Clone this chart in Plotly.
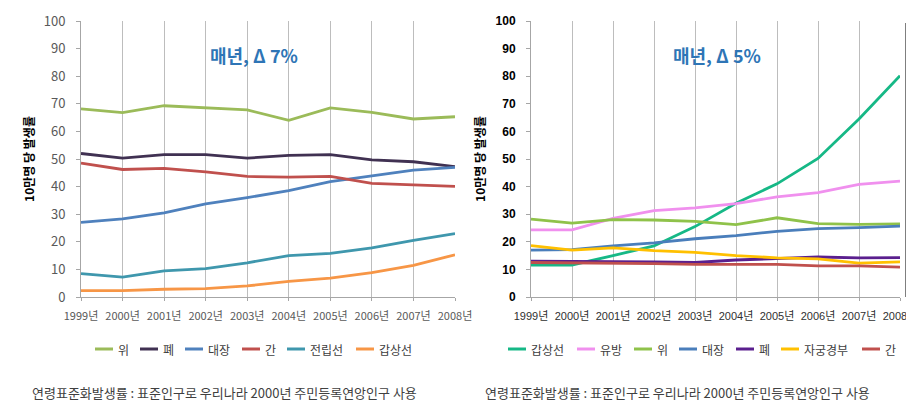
import plotly.graph_objects as go

years = ["1999년", "2000년", "2001년", "2002년", "2003년", "2004년", "2005년", "2006년", "2007년", "2008년"]
xs = list(range(len(years)))

# Left chart
left_names = ["위", "폐", "대장", "간", "전립선", "갑상선"]
left_values = [
    [68.2, 66.8, 69.3, 68.5, 67.8, 64.0, 68.5, 66.9, 64.5, 65.3],
    [52.0, 50.3, 51.6, 51.6, 50.3, 51.3, 51.6, 49.7, 49.0, 47.2],
    [27.0, 28.3, 30.5, 33.7, 36.0, 38.5, 41.8, 44.0, 46.0, 47.0],
    [48.5, 46.2, 46.6, 45.3, 43.7, 43.4, 43.7, 41.2, 40.6, 40.1],
    [8.5, 7.2, 9.5, 10.3, 12.4, 15.0, 15.8, 17.8, 20.5, 23.0],
    [2.3, 2.3, 2.8, 3.0, 4.0, 5.7, 6.8, 8.8, 11.5, 15.3],
]
left_colors = ["#9BBB59", "#403152", "#4F81BD", "#C0504D", "#3F97AD", "#F79646"]

# Right chart
right_names = ["갑상선", "유방", "위", "대장", "폐", "자궁경부", "간"]
right_values = [
    [11.6, 11.6, 15.0, 18.5, 25.5, 34.0, 41.0, 50.2, 64.5, 80.2],
    [24.3, 24.3, 28.5, 31.3, 32.3, 33.8, 36.3, 37.8, 40.8, 42.0],
    [28.2, 26.8, 28.0, 27.9, 27.4, 26.2, 28.7, 26.6, 26.3, 26.5],
    [17.0, 17.2, 18.5, 19.6, 21.1, 22.2, 23.8, 24.8, 25.1, 25.7],
    [13.0, 12.8, 12.8, 12.7, 12.5, 13.4, 14.0, 14.5, 14.2, 14.3],
    [18.6, 17.0, 17.8, 16.8, 16.2, 15.0, 14.2, 13.8, 12.3, 12.7],
    [12.5, 12.4, 12.3, 12.1, 11.8, 11.7, 11.8, 11.3, 11.3, 10.8],
]
right_colors = ["#16B886", "#F090EE", "#8FC24A", "#4A7EBB", "#5A1F8E", "#FFC000", "#C0504D"]

y_ticks = list(range(0, 101, 10))
annot_left = "매년, Δ 7%"
annot_right = "매년, Δ 5%"
y_title = "10만명 당 발생률"
footnote = "연령표준화발생률 : 표준인구로 우리나라 2000년 주민등록연앙인구 사용"

# The page body adds an 8px margin; size the figure so it fills the 914x405 window.
OFF = 8
W, H = 914 - OFF, 405 - OFF
KR = "Noto Sans CJK KR"


def px(v):
    return (v - OFF) / W


def py(v):
    return 1 - (v - OFF) / H


fig = go.Figure()
for name, vals, col in zip(left_names, left_values, left_colors):
    fig.add_trace(go.Scatter(x=xs, y=vals, name=name, mode="lines",
                             line=dict(color=col, width=2.8), xaxis="x", yaxis="y"))
for name, vals, col in zip(right_names, right_values, right_colors):
    fig.add_trace(go.Scatter(x=xs, y=vals, name=name, mode="lines",
                             line=dict(color=col, width=2.8), xaxis="x2", yaxis="y2"))

ydom = [py(297), py(21)]
axis_common = dict(range=[0, 9], tickvals=xs, ticktext=years, showgrid=True,
                   gridcolor="#BDBDBD", gridwidth=1.3, showline=True, linecolor="#A6A6A6",
                   ticks="outside", ticklen=3, tickcolor="#A6A6A6", zeroline=False,
                   ticklabelstandoff=6, automargin=False, ticklabeloverflow="allow")
yaxis_common = dict(range=[0, 100], tickvals=y_ticks, showgrid=False, showline=True,
                    linecolor="#A6A6A6", ticks="outside", ticklen=4, tickcolor="#A6A6A6",
                    zeroline=False, automargin=False, ticklabelstandoff=8)
fig.update_layout(
    width=W, height=H, margin=dict(l=0, r=0, t=0, b=0, pad=0, autoexpand=False),
    paper_bgcolor="white", plot_bgcolor="white",
    font=dict(family=KR, size=11, color="#404040"),
    showlegend=False,
    xaxis=dict(domain=[px(81), px(455)], anchor="y",
               tickfont=dict(family=KR, size=11, color="#595959"), **axis_common),
    yaxis=dict(domain=ydom, anchor="x", **yaxis_common,
               tickfont=dict(family=KR, size=13, color="#595959"),
               title=dict(text=y_title, font=dict(family=KR, size=12, color="#000000", weight="bold"),
                          standoff=6)),
    xaxis2=dict(domain=[px(531), px(900)], anchor="y2",
                tickfont=dict(family="Liberation Sans, " + KR, size=11, color="#303030"), **axis_common),
    yaxis2=dict(domain=ydom, anchor="x2", **yaxis_common,
                tickfont=dict(family="Liberation Sans", size=12, color="#000000", weight="bold"),
                title=dict(text=y_title, font=dict(family=KR, size=12, color="#000000", weight="bold"),
                           standoff=7)),
)

fig.add_annotation(text=annot_left, xref="paper", yref="paper", x=px(254), y=py(55),
                   xanchor="center", yanchor="middle",
                   showarrow=False, font=dict(family=KR, size=18, color="#2E75B6", weight="bold"))
fig.add_annotation(text=annot_right, xref="paper", yref="paper", x=px(717), y=py(55),
                   xanchor="center", yanchor="middle",
                   showarrow=False, font=dict(family=KR, size=18, color="#2E75B6", weight="bold"))
fig.add_annotation(text=footnote, xref="paper", yref="paper", x=px(30), y=py(392),
                   xanchor="left", yanchor="middle", showarrow=False,
                   font=dict(family=KR, size=13, color="#404040"))
fig.add_annotation(text=footnote, xref="paper", yref="paper", x=px(483), y=py(392),
                   xanchor="left", yanchor="middle", showarrow=False,
                   font=dict(family=KR, size=13, color="#404040"))

# Compact legends (line sample + label), laid out from the series names
LINE_LEN, TEXT_GAP, CHAR_W, ITEM_GAP = 18, 3, 12, 12
LEG_Y = 349


def add_legend(names, colors, x_start):
    x = x_start
    for name, col in zip(names, colors):
        fig.add_shape(type="line", xref="paper", yref="paper",
                      x0=px(x), x1=px(x + LINE_LEN), y0=py(LEG_Y), y1=py(LEG_Y),
                      line=dict(color=col, width=3))
        fig.add_annotation(text=name, xref="paper", yref="paper", x=px(x + LINE_LEN + TEXT_GAP),
                           y=py(LEG_Y), xanchor="left", yanchor="middle", showarrow=False,
                           font=dict(family=KR, size=12, color="#404040"))
        x += LINE_LEN + TEXT_GAP + CHAR_W * len(name) + ITEM_GAP


add_legend(left_names, left_colors, 95)
add_legend(right_names, right_colors, 508)

# cut-off secondary axis line at the right edge of the right chart
fig.add_shape(type="line", xref="paper", yref="paper", x0=px(906), x1=px(906), y0=py(23), y1=py(297),
              line=dict(color="#7F7F7F", width=2))

fig.write_html("out.html")
